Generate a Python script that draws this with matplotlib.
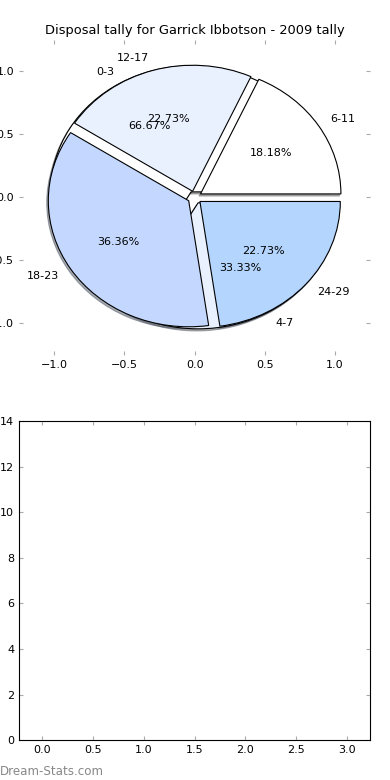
import matplotlib
matplotlib.use("Agg")
import matplotlib.pyplot as plt

# Disposal tally buckets (two pies drawn on the same axes)
main_labels = ["6-11", "12-17", "18-23", "24-29"]
main_counts = [4, 5, 8, 5]
low_labels = ["0-3", "4-7"]
low_counts = [2, 1]

wedge_colors = ["#ffffff", "#e9f1ff", "#c4d8ff", "#b4d5fe"]

x_ticks = [-1.0, -0.5, 0.0, 0.5, 1.0]
y_ticks = [-1.0, -0.5, 0.0, 0.5, 1.0]
bottom_xticks = [0.0, 0.5, 1.0, 1.5, 2.0, 2.5, 3.0]
bottom_yticks = [0, 2, 4, 6, 8, 10, 12, 14]

plt.rcParams["font.size"] = 8
plt.rcParams["xtick.direction"] = "in"
plt.rcParams["ytick.direction"] = "in"
plt.rcParams["xtick.top"] = True
plt.rcParams["ytick.right"] = True
plt.rcParams["xtick.color"] = "#aaaaaa"
plt.rcParams["ytick.color"] = "#aaaaaa"
plt.rcParams["xtick.labelcolor"] = "black"
plt.rcParams["ytick.labelcolor"] = "black"
plt.rcParams["xtick.major.size"] = 3
plt.rcParams["ytick.major.size"] = 3

fig = plt.figure(figsize=(3.9, 7.8), dpi=100)

# Top: pie chart
ax1 = fig.add_axes([0.049, 0.545, 0.9, 0.404])
wedge_props = {"edgecolor": "black", "linewidth": 0.8}
shadow_props = {"ox": -0.008, "oy": -0.012, "shade": 0.6}
ax1.pie(low_counts, labels=low_labels, colors=wedge_colors[:2],
        explode=[0.05] * len(low_counts), autopct="%1.2f%%",
        shadow=shadow_props, wedgeprops=wedge_props)
ax1.pie(main_counts, labels=main_labels, colors=wedge_colors,
        explode=[0.05] * len(main_counts), autopct="%1.2f%%",
        shadow=shadow_props, wedgeprops=wedge_props)
ax1.set_aspect("auto")
ax1.set_frame_on(False)
ax1.set_xlim(-1.25, 1.25)
ax1.set_ylim(-1.25, 1.25)
ax1.set_xticks(x_ticks)
ax1.set_yticks(y_ticks)
ax1.set_title("Disposal tally for Garrick Ibbotson - 2009 tally",
              fontsize=9.4, pad=4)

# Bottom: empty axes
ax2 = fig.add_axes([0.049, 0.051, 0.9, 0.409])
ax2.set_xlim(-0.225, 3.225)
ax2.set_ylim(0, 14)
ax2.set_xticks(bottom_xticks)
ax2.set_yticks(bottom_yticks)

fig.text(0.0, 0.006, "Dream-Stats.com", color="#888888", fontsize=8.6)

fig.savefig("out.png", dpi=100)
